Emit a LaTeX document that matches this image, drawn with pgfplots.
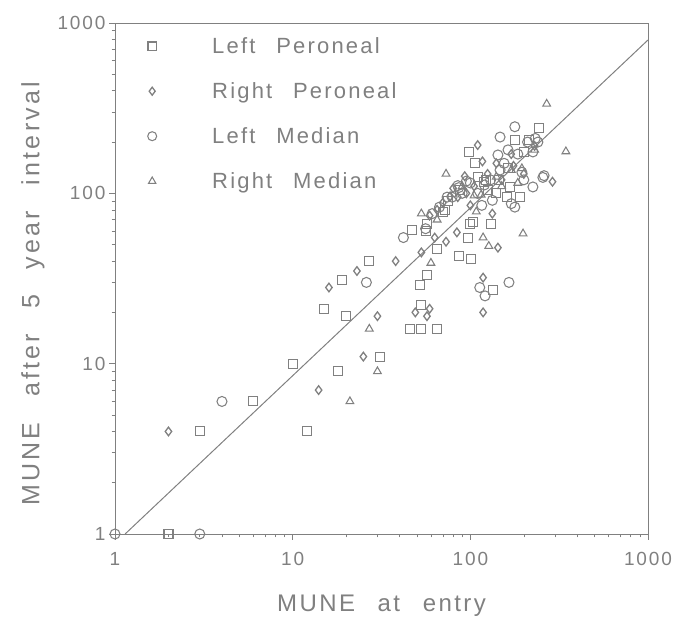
\documentclass[border=0pt]{standalone}
\usepackage{fontspec}
\setmainfont[LetterSpace=10,WordSpace=2.5]{Liberation Sans}
\newfontfamily\ylabfont[LetterSpace=13,WordSpace=2.5]{Liberation Sans}
\usepackage{pgfplots}
\pgfplotsset{compat=1.18}
\definecolor{ink}{gray}{0.5}
\definecolor{mk}{gray}{0.5}
\begin{document}
\begin{tikzpicture}
\begin{axis}[
  name=ax,
  xmode=log, ymode=log,
  xmin=1, xmax=1000, ymin=1, ymax=1000,
  scale only axis, width=533pt, height=511pt,
  axis line style={ink, line width=0.7pt},
  tick style={ink, line width=0.6pt},
  tick align=outside, tick pos=left,
  major tick length=6pt, minor tick length=3.5pt,
  xtick={1,10,100,1000}, xticklabels={1,10,100,1000},
  ytick={1,10,100,1000}, yticklabels={1,10,100,1000},
  ticklabel style={font=\fontsize{19}{21}\selectfont, text=ink},
  xticklabel style={yshift=-9pt},
  xlabel={MUNE at entry},
  ylabel={MUNE after 5 year interval},
  xlabel style={font=\fontsize{24}{28}\selectfont, text=ink, at={(axis description cs:0.5,-0.151)}, anchor=base},
  ylabel style={font=\ylabfont\fontsize{25}{28}\selectfont, text=ink, at={(axis description cs:-0.142,0.47)}, anchor=base},
  legend style={at={(axis description cs:0,1)}, anchor=north west,
    xshift=29pt, yshift=-14pt, draw=none, fill=none, inner sep=0pt,
    row sep=23pt, font=\fontsize{22}{24}\selectfont, text=ink,
    nodes={anchor=base west, inner sep=2pt, text height=14pt, text depth=4pt}},
]
\addplot[only marks, mark=square, mark size=4.5pt, color=mk, mark options={line width=1.05pt},
  legend image code/.code={\path[draw=none,fill=none] (-8pt,7pt) -- (58pt,7pt); \pgfplotsset{mark size=4.2pt}\draw[mark=square, line width=0.8pt] plot coordinates {(0pt,7pt)};}]
coordinates {
(2,1)(3,4)(6,6)(10,10)(12,4)(15,21)(18,9)(19,31)(20,19)(27,40)(31,11)
(46,16)(53,16)(65,16)(53,22)(52,29)(57,33)(57,66)(47,61)(56,60)(65,47)
(70,78)(86,43)(101,41)(97,55)(100,66)(98,175)(106,150)(120,117)(123,120)
(130,66)(103,68)(134,27)(190,95)(244,242)(178,206)(163,141)(167,109)(72,80)(145,120)
(75,90)(88,105)(110,125)(140,100)(200,175)(215,205)(160,95)(125,105)
};
\addlegendentry{Left Peroneal}
\addplot[only marks, mark=diamond, mark size=4.3pt, color=mk, mark options={line width=1.3pt},
  legend image code/.code={\path[draw=none,fill=none] (-8pt,7pt) -- (58pt,7pt); \pgfplotsset{mark size=4pt}\draw[mark=diamond, line width=1pt] plot coordinates {(0pt,7pt)};}]
coordinates {
(2,4)(14,7)(16,28)(23,35)(25,11)(30,19)(38,40)(53,45)(49,20)(57,19)(59,21)
(63,55)(73,52)(84,59)(118,32)(118,20)(143,48)(133,76)(110,192)(117,154)
(93,126)(80,107)(77,96)(59,74)(140,150)(170,170)(290,117)(200,130)(95,100)
(65,80)(70,88)(85,95)(105,110)(125,130)(150,120)(175,145)(230,190)(100,85)
};
\addlegendentry{Right Peroneal}
\addplot[only marks, mark=o, mark size=5pt, color=mk, mark options={line width=1.05pt},
  legend image code/.code={\path[draw=none,fill=none] (-8pt,7pt) -- (58pt,7pt); \pgfplotsset{mark size=4.5pt}\draw[mark=o, line width=0.8pt] plot coordinates {(0pt,7pt)};}]
coordinates {
(1,1)(3,1)(4,6)(26,30)(42,55)(113,28)(121,25)(165,30)(178,83)(170,87)
(133,91)(116,85)(147,214)(178,246)(225,175)(232,210)(260,127)(225,109)
(256,124)(195,133)(147,137)(143,168)(163,180)(85,111)(74,95)(79,95)
(67,83)(61,76)(86,108)(56,62)(120,112)(210,200)(100,115)
(90,100)(130,120)(155,150)(185,170)(240,200)(110,100)(200,120)(95,118)
};
\addlegendentry{Left Median}
\addplot[only marks, mark=triangle, mark size=4.5pt, color=mk, mark options={line width=1.05pt},
  legend image code/.code={\path[draw=none,fill=none] (-8pt,7pt) -- (58pt,7pt); \pgfplotsset{mark size=4.2pt}\draw[mark=triangle, line width=0.8pt] plot coordinates {(0pt,7pt)};}]
coordinates {
(21,6)(27,16)(30,9)(60,39)(53,76)(73,130)(105,97)(118,55)(127,49)(170,137)
(198,58)(269,335)(345,176)(195,140)(108,78)(150,110)
(90,110)(115,98)(140,125)(185,115)(230,180)(65,70)
};
\addlegendentry{Right Median}
\addplot[mk, line width=1pt, no marks, forget plot] coordinates {(1.14,1) (1000,795)};
\end{axis}
\path ([xshift=-115pt,yshift=-90pt]ax.south west) rectangle ([xshift=44pt,yshift=23pt]ax.north east);
\end{tikzpicture}
\end{document}
